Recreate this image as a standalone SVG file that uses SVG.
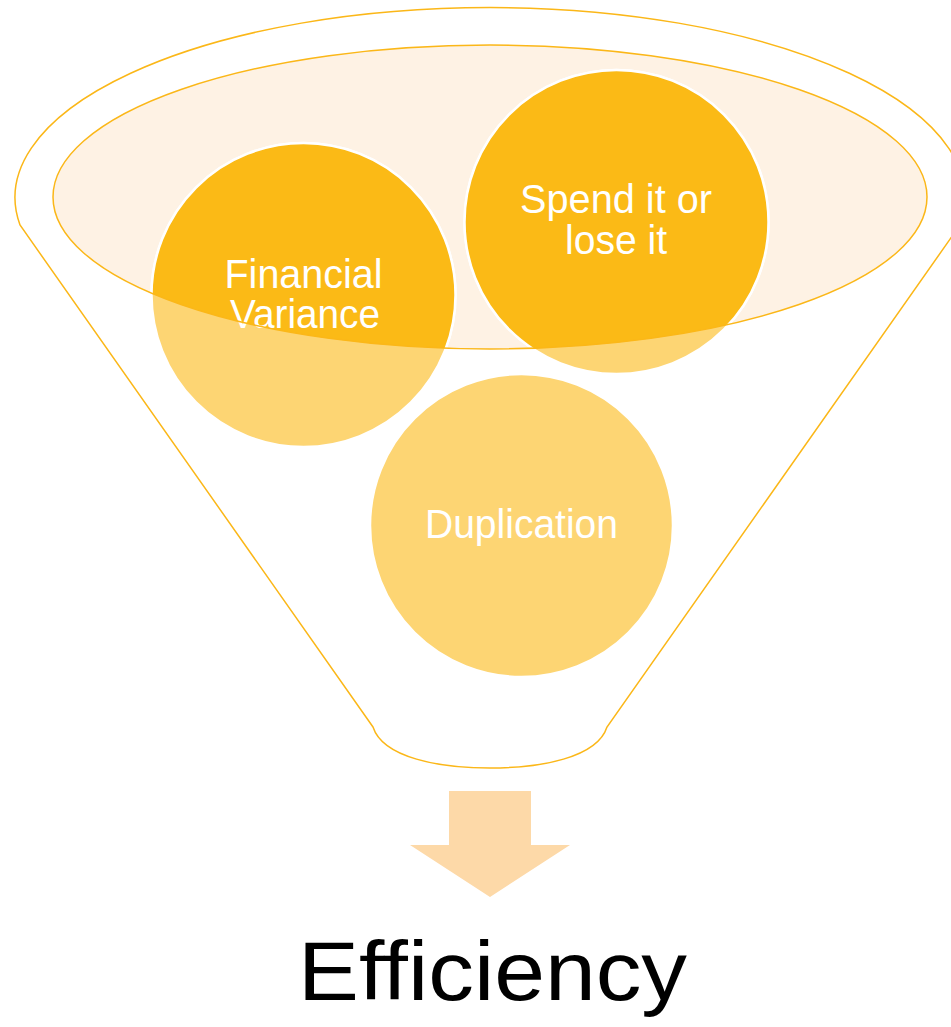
<svg xmlns="http://www.w3.org/2000/svg" width="951" height="1027" viewBox="0 0 951 1027">
  <style>
    .outline { fill: none; stroke: #FBB718; stroke-width: 1.5; }
    .bubble-light { fill: #FDD573; stroke: #FFFFFF; stroke-width: 2.5; }
    .bubble-dark { fill: #FBBA16; stroke: #FFFFFF; stroke-width: 2.5; }
    .label { fill: #FFFFFF; font-family: "Liberation Sans", Arial, sans-serif; font-size: 40px; text-anchor: middle; }
    .result { fill: #000000; font-family: "Liberation Sans", Arial, sans-serif; font-size: 84px; text-anchor: middle; }
  </style>
  <defs>
    <clipPath id="mouth">
      <ellipse cx="490" cy="197" rx="437" ry="152"/>
    </clipPath>
  </defs>
  <rect width="951" height="1027" fill="#FFFFFF"/>

  <!-- funnel body -->
  <g id="funnel">
    <path class="outline" d="M 373 727 L 20 225 A 475 190 0 1 1 960 225 L 607 727 C 597 758 540 768 490 768 C 440 768 383 758 373 727 Z"/>
    <ellipse cx="490" cy="197" rx="437" ry="152" fill="#FEF2E4"/>
  </g>

  <!-- items -->
  <g id="financial-variance">
    <circle class="bubble-light" cx="303.5" cy="295" r="152"/>
    <circle class="bubble-dark" cx="303.5" cy="295" r="152" clip-path="url(#mouth)"/>
    <text class="label"><tspan x="303.5" y="288" textLength="158" lengthAdjust="spacingAndGlyphs">Financial</tspan><tspan x="305" y="328" textLength="150" lengthAdjust="spacingAndGlyphs">Variance</tspan></text>
  </g>
  <g id="spend-it">
    <circle class="bubble-light" cx="616.5" cy="222" r="152"/>
    <circle class="bubble-dark" cx="616.5" cy="222" r="152" clip-path="url(#mouth)"/>
    <text class="label"><tspan x="616" y="213" textLength="192" lengthAdjust="spacingAndGlyphs">Spend it or</tspan><tspan x="616" y="254" textLength="102" lengthAdjust="spacingAndGlyphs">lose it</tspan></text>
  </g>
  <g id="duplication">
    <circle class="bubble-light" cx="521.5" cy="525.5" r="151.5"/>
    <text class="label" x="521.5" y="538" textLength="193" lengthAdjust="spacingAndGlyphs">Duplication</text>
  </g>

  <!-- rim line over the items -->
  <g id="rim">
    <ellipse class="outline" cx="490" cy="197" rx="437" ry="152"/>
  </g>

  <!-- output arrow -->
  <g id="connectors">
    <polygon points="449,791 531,791 531,845 570,845 490,897 410,845 449,845" fill="#FDD9A8"/>
  </g>

  <g id="efficiency">
    <text class="result" x="492.5" y="1000" textLength="389" lengthAdjust="spacingAndGlyphs">Efficiency</text>
  </g>
</svg>
